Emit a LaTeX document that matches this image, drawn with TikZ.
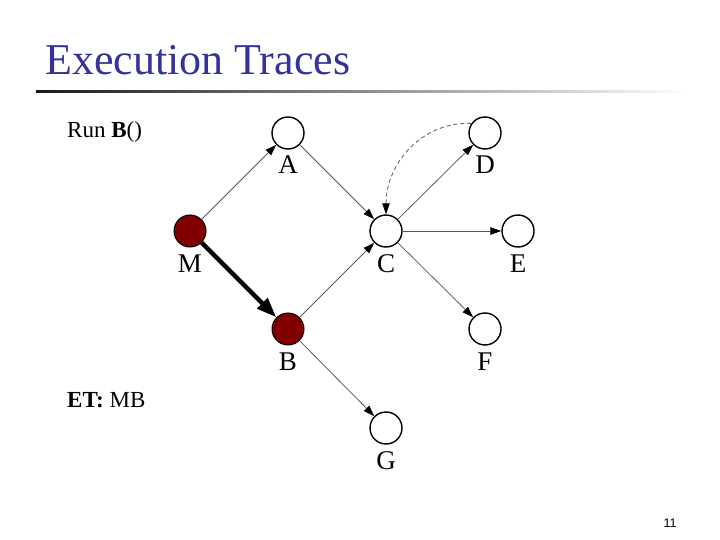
\documentclass[tikz,border=0pt]{standalone}
\usepackage{fontspec}
\setmainfont{Liberation Serif}
\newfontfamily\numfont{Liberation Sans}
\usetikzlibrary{arrows.meta}
\definecolor{titleblue}{RGB}{51,51,153}
\definecolor{nodered}{RGB}{128,0,0}
\begin{document}
\begin{tikzpicture}[x=1pt,y=-1pt,
  vert/.style={circle, draw=black, line width=1.4pt, fill=white, minimum size=32pt, inner sep=0pt},
  hot/.style={vert, fill=nodered, line width=1pt},
  lbl/.style={font=\fontsize{27}{27}\selectfont, anchor=base, inner sep=0pt},
  edge/.style={draw=black!65, line width=0.75pt, -{Triangle[length=11pt,width=7.5pt,black]}},
  callarrow/.style={draw=black, line width=4.5pt, -{Triangle[length=20pt,width=14pt]}},
  backedge/.style={draw=black!60, line width=0.9pt, dash pattern=on 4pt off 3pt, -{Triangle[length=11pt,width=7.5pt,black]}},
  txt/.style={anchor=base west, inner sep=0pt, font=\fontsize{23}{23}\selectfont}]
\useasboundingbox (0,0) rectangle (720,540);
% title
\node[anchor=base west, inner sep=0pt, text=titleblue, font=\fontsize{44}{44}\selectfont] (title) at (45,75) {Execution Traces};
\shade[left color=black!90, right color=white] (36,90.3) rectangle (690,92.7);
% texts
\node[txt] (run) at (67,138) {Run \textbf{B}()};
\node[txt] (et) at (67,407) {\textbf{ET:} MB};
\node[anchor=base, inner sep=0pt, font=\numfont\fontsize{12.5}{12.5}\selectfont] (pg) at (670,527) {11};
% nodes
\node[hot]  (M) at (190,231) {};
\node[vert] (A) at (288,133) {};
\node[vert] (C) at (386,231) {};
\node[hot]  (B) at (288,329) {};
\node[vert] (D) at (485,133) {};
\node[vert] (E) at (518,231) {};
\node[vert] (F) at (485,329) {};
\node[vert] (G) at (386,428) {};
% labels
\node[lbl] (lM) at (190,272) {M};
\node[lbl] (lA) at (288,174) {A};
\node[lbl] (lC) at (386,272) {C};
\node[lbl] (lB) at (288,370) {B};
\node[lbl] (lD) at (485,174) {D};
\node[lbl] (lE) at (518,272) {E};
\node[lbl] (lF) at (485,370) {F};
\node[lbl] (lG) at (386,469) {G};
% edges
\draw[edge] (M) -- (A);
\draw[edge] (A) -- (C);
\draw[edge] (B) -- (C);
\draw[edge] (C) -- (D);
\draw[edge] (C) -- (E);
\draw[edge] (C) -- (F);
\draw[edge] (B) -- (G);
\draw[callarrow] (M) -- (B);
\draw[backedge] (D.145) .. controls +(-50,-2) and +(0,-50) .. (C.north);
\end{tikzpicture}
\end{document}
